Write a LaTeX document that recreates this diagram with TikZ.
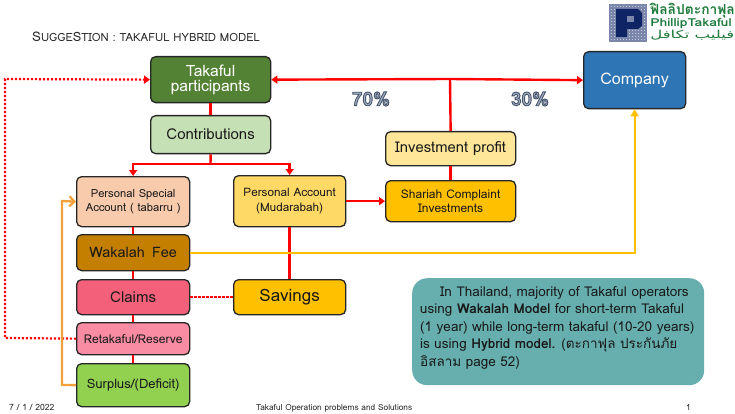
\documentclass[tikz,border=0pt]{standalone}
\usepackage{fontspec}
\setmainfont{Loma}
\newfontfamily\arabicfont[Script=Arabic]{DejaVu Sans}
\newfontfamily\thaifont[Script=Thai]{Loma}
\TeXXeTstate=1
\usetikzlibrary{arrows.meta,calc}
\newcommand{\outl}[1]{\special{pdf:code 2 Tr 0.9 w 0.27 0.33 0.42 RG}#1\special{pdf:code 0 Tr 1 w 0 0 0 RG}}
\definecolor{gdark}{HTML}{548235}
\definecolor{glight}{HTML}{C5E0B4}
\definecolor{peach}{HTML}{F8CBAD}
\definecolor{ylight}{HTML}{FFD966}
\definecolor{ypale}{HTML}{FFE699}
\definecolor{gold}{HTML}{FFC000}
\definecolor{brown}{HTML}{C47F00}
\definecolor{claimc}{HTML}{F2607A}
\definecolor{retac}{HTML}{F98CA2}
\definecolor{surpc}{HTML}{92D050}
\definecolor{bluec}{HTML}{2E75B6}
\definecolor{tealc}{HTML}{66AFAE}
\definecolor{orangec}{HTML}{F4A13C}
\definecolor{logog}{HTML}{1E7B3C}
\definecolor{logon}{HTML}{0F2464}
\definecolor{pctf}{HTML}{A6B2C4}
\tikzset{
  boxn/.style={draw=black!85,line width=1.3pt,rounded corners=5pt,align=center,inner sep=0pt,text=black!90,anchor=north west},
  redl/.style={draw=red,line width=2.4pt},
  reda/.style={redl,-{Triangle[length=6pt,width=8pt]}},
  dotl/.style={draw=red,line width=2.2pt,dash pattern=on 2.2pt off 1.8pt},
  yell/.style={draw=gold,line width=2.3pt},
  ornl/.style={draw=orangec,line width=2.3pt},
  foot/.style={font=\fontsize{8.3}{9}\selectfont,text=black!85,inner sep=0pt},
  pct/.style={font=\fontsize{19}{20}\selectfont\bfseries,inner sep=0pt,text=pctf}
}
\begin{document}
\begin{tikzpicture}[x=1pt,y=-1pt]
\useasboundingbox (0,0) rectangle (735,414);
% title and footer
\node[anchor=west,inner sep=0pt,font=\fontsize{11.3}{12}\selectfont,text=black!85] (ttl) at (32,37) {{\fontsize{13.3}{12}\selectfont S}UGGE{\fontsize{12.8}{12}\selectfont S}TION : TAKAFUL HYBRID MODEL};
\node[foot,anchor=west,font=\fontsize{8.6}{9}\selectfont] (dt) at (9,407.5) {7 / 1 / 2022};
\node[foot,anchor=west] (ftr) at (256,408) {Takaful Operation problems and Solutions};
\node[foot,anchor=west] (pg) at (686,408) {1};
% logo
\fill[logon!25!white] (609,4) rectangle (647,41.5);
\foreach \i in {0,...,25} {
  \draw[logon!55!white,line width=.35pt] (609+1.5*\i,4) -- (609+1.5*\i,41.5);
  \draw[logon!55!white,line width=.35pt] (609,4+1.5*\i) -- (647,4+1.5*\i);
}
\fill[logon] (616,9) -- (638,9) -- (642,13) -- (642,26) -- (638,29) -- (627,29) -- (627,37) -- (616,37) -- cycle;
\fill[logon!55!white] (627,16) rectangle (634,22);
\node[anchor=west,inner sep=0pt,text=logog,font=\thaifont\bfseries\fontsize{13.8}{14}\selectfont] (lg1) at (650,10.5) {ฟิลลิปตะกาฟุล};
\node[anchor=west,inner sep=0pt,text=logog,font=\bfseries\fontsize{11}{11}\selectfont,xscale=1.27] (lg2) at (650,23) {PhillipTakaful};
\node[anchor=west,inner sep=0pt,text=logog,font=\arabicfont\fontsize{11}{11}\selectfont,xscale=1.5] (lg3) at (650,35) {\beginR فيليب تكافل\endR};
% nodes
\node[boxn,fill=gdark,minimum width=120pt,minimum height=46pt,text=white,font=\fontsize{15.6}{15.5}\selectfont] (tp) at (150,56) {Takaful\\participants};
\node[boxn,fill=glight,minimum width=120pt,minimum height=38pt,font=\fontsize{15}{16}\selectfont] (con) at (150,115) {Contributions};
\node[boxn,fill=peach,minimum width=113pt,minimum height=50pt,font=\fontsize{11.2}{14.5}\selectfont] (psa) at (76,176) {Personal Special\\Account ( tabarru )};
\node[boxn,fill=ylight,minimum width=112pt,minimum height=51pt,font=\fontsize{11.7}{15}\selectfont] (pa) at (233,175) {Personal Account\\(Mudarabah)};
\node[boxn,fill=brown,minimum width=113pt,minimum height=36pt,font=\fontsize{14.4}{15}\selectfont] (wf) at (76,234) {Wakalah\, Fee};
\node[boxn,fill=claimc,minimum width=113pt,minimum height=35pt,font=\fontsize{15}{16}\selectfont] (cl) at (76,279) {Claims};
\node[boxn,fill=retac,minimum width=113pt,minimum height=32pt,font=\fontsize{12.1}{13}\selectfont] (re) at (76,322) {Retakaful/Reserve};
\node[boxn,fill=surpc,minimum width=113pt,minimum height=43pt,font=\fontsize{13}{14}\selectfont] (su) at (76,363) {Surplus/(Deficit)};
\node[boxn,fill=gold,minimum width=112pt,minimum height=35pt,font=\fontsize{17}{18}\selectfont] (sav) at (233,279) {Savings};
\node[boxn,fill=ypale,minimum width=130pt,minimum height=34pt,font=\fontsize{14.8}{16}\selectfont] (ip) at (385,131) {Investment profit};
\node[boxn,fill=gold,minimum width=130pt,minimum height=41pt,font=\fontsize{12}{13.5}\selectfont] (si) at (385,180) {Shariah Complaint\\Investments};
\node[boxn,fill=bluec,minimum width=102pt,minimum height=57pt,text=white,font=\fontsize{16}{17}\selectfont] (co) at (583,51) {Company};
\node[anchor=north west,fill=tealc,rounded corners=15pt,minimum width=292pt,minimum height=107pt,inner sep=0pt] (nt) at (412,278) {};
\node[anchor=north west,inner sep=0pt,font=\fontsize{13.5}{17.5}\selectfont,text=black!90,align=left] (ntt) at (420,286) {\hspace{20pt}In Thailand, majority of Takaful operators\\using \textbf{Wakalah Model} for short-term Takaful\\(1 year) while long-term takaful (10-20 years)\\is using \textbf{Hybrid model.} (ตะกาฟุล ประกันภัย\\อิสลาม page 52)};
\node[pct] (p70) at (371,99) {\outl{70\%}};
\node[pct] (p30) at (530,99) {\outl{30\%}};
% junctions
\coordinate (j1) at (450,79);
\coordinate (j2) at (210.5,164);
% connectors
\draw[redl] (tp.south) -- (con.north);
\draw[redl] (con.south) -- (j2);
\draw[reda] (j2) -| (psa.north);
\draw[reda] (j2) -| (pa.north);
\draw[reda] (j1) -- (tp.east);
\draw[reda] (j1) -- (co.west);
\draw[redl] (ip.north) -- (j1);
\draw[redl] (ip.south) -- (si.north);
\draw[reda] (pa.east |- si.west) -- (si.west);
\draw[redl] (pa.south) -- (sav.north);
\draw[redl] (psa.south) -- (wf.north);
\draw[redl] (wf.south) -- (cl.north);
\draw[redl] (cl.south) -- (re.north);
\draw[redl] (re.south) -- (su.north);
\draw[dotl] (cl.east) -- (sav.west);
\draw[yell,-{Triangle[length=7pt,width=8pt]}] (wf.east) -| (co.south);
\coordinate (d1) at (5,338);
\coordinate (d2) at (5,79);
\draw[dotl,-{Triangle[length=6pt,width=8pt]}] (re.west) -- (d1) -- (d2) -- (tp.west);
\coordinate (o1) at (62,385);
\coordinate (o2) at (62,201);
\draw[ornl,-{Straight Barb[length=5pt,width=10pt]}] (su.west) -- (o1) -- (o2) -- (psa.west);
\end{tikzpicture}
\end{document}
